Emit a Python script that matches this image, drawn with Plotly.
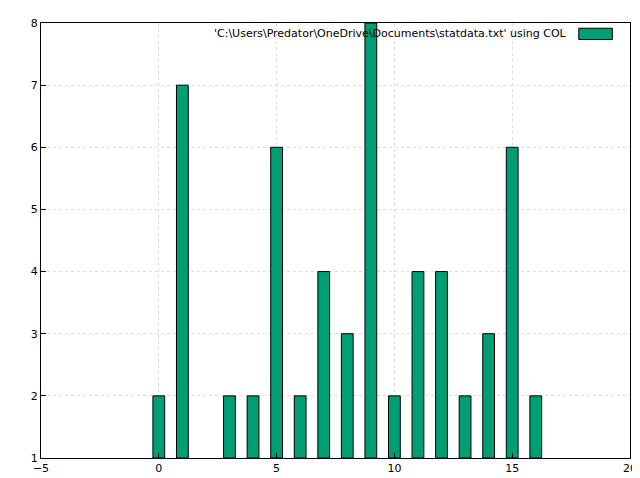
import plotly.graph_objects as go

xs = [0, 1, 3, 4, 5, 6, 7, 8, 9, 10, 11, 12, 13, 14, 15, 16]
counts = [2, 7, 2, 2, 6, 2, 4, 3, 8, 2, 4, 4, 2, 3, 6, 2]
label = "'C:\\Users\\Predator\\OneDrive\\Documents\\statdata.txt' using COL"

green = "#009e73"
fig = go.Figure()
fig.add_trace(go.Bar(x=xs, y=[c - 1 for c in counts], base=1, width=0.5,
                     marker=dict(color=green, line=dict(color="black", width=1)),
                     showlegend=False))

axis = dict(showline=True, mirror=True, linecolor="black", linewidth=1,
            ticks="inside", ticklen=5, tickcolor="black", automargin=False,
            showgrid=True, gridcolor="#dddddd", griddash="dot", gridwidth=1,
            zeroline=False, tickfont=dict(family="DejaVu Sans", size=11, color="black"))
fig.update_xaxes(range=[-5, 20], dtick=5, **axis)
fig.update_yaxes(range=[1, 8], dtick=1, **axis)

fig.add_annotation(xref="paper", yref="paper", x=0.896, y=0.975, xanchor="right",
                   yanchor="middle", text=label, showarrow=False,
                   font=dict(family="DejaVu Sans", size=11, color="black"))
fig.add_shape(type="rect", xref="paper", yref="paper", x0=0.913, x1=0.97,
              y0=0.962, y1=0.988, fillcolor=green, line=dict(color="black", width=1))

fig.update_layout(width=640, height=478, margin=dict(l=33, r=18, t=15, b=28),
                  plot_bgcolor="white", paper_bgcolor="white")
fig.write_html("out.html")
